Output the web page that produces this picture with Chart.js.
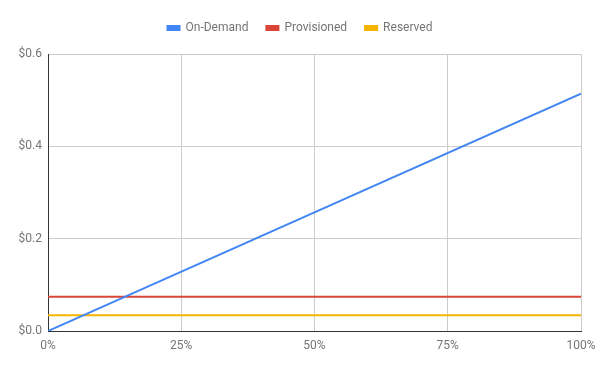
<!DOCTYPE html>
<html>
<head>
<meta charset="utf-8">
<script src="https://cdn.jsdelivr.net/npm/chart.js@4"></script>
<style>
  body { margin: 0; background: #fff; }
  #wrap { width: 600px; height: 371px; }
</style>
</head>
<body>
<div id="wrap"><canvas id="chart"></canvas></div>
<script>
const usage = [0, 100];
const onDemand = [0, 0.514];
const provisioned = [0.074, 0.074];
const reserved = [0.034, 0.034];
const xTicks = [0, 25, 50, 75, 100];

function pts(values) {
  return usage.map((u, i) => ({ x: u, y: values[i] }));
}

// force the legend block height so the plot starts where the reference does
const legendHeight = {
  id: "legendHeight",
  beforeLayout(chart) {
    const lg = chart.legend;
    if (!lg || lg._patched) return;
    const fit = lg.fit;
    lg.fit = function () {
      fit.call(this);
      this.height = 50;
    };
    lg._patched = true;
  }
};

const ctx = document.getElementById("chart").getContext("2d");
new Chart(ctx, {
  type: "line",
  data: {
    datasets: [
      { label: "On-Demand", data: pts(onDemand), borderColor: "#4285f4", backgroundColor: "#4285f4" },
      { label: "Provisioned", data: pts(provisioned), borderColor: "#db4437", backgroundColor: "#db4437" },
      { label: "Reserved", data: pts(reserved), borderColor: "#f4b400", backgroundColor: "#f4b400" }
    ]
  },
  plugins: [legendHeight],
  options: {
    responsive: true,
    maintainAspectRatio: false,
    animation: false,
    elements: {
      line: { borderWidth: 2, tension: 0 },
      point: { radius: 0 }
    },
    layout: { padding: { top: 4, right: 19, left: 19, bottom: 0 } },
    plugins: {
      tooltip: { enabled: false },
      legend: {
        position: "top",
        labels: {
          font: { family: "Roboto", size: 12 },
          color: "#757575",
          boxWidth: 12,
          boxHeight: 4,
          padding: 18
        }
      }
    },
    scales: {
      x: {
        type: "linear",
        min: 0,
        max: 100,
        afterBuildTicks: axis => { axis.ticks = xTicks.map(v => ({ value: v })); },
        afterFit: axis => {
          axis.height = 40;
          axis.paddingLeft = 0;
          axis.paddingRight = 0;
        },
        grid: { color: "#cccccc", drawTicks: false },
        border: { color: "#333333", width: 1 },
        ticks: {
          padding: 8,
          color: "#757575",
          font: { family: "Roboto", size: 12 },
          callback: v => v + "%"
        }
      },
      y: {
        min: 0,
        max: 0.6,
        afterFit: axis => { axis.width = 29; },
        grid: { color: "#cccccc", drawTicks: false },
        border: { color: "#333333", width: 1 },
        ticks: {
          stepSize: 0.2,
          padding: 6,
          color: "#757575",
          font: { family: "Roboto", size: 12 },
          callback: v => "$" + v.toFixed(1)
        }
      }
    }
  }
});
</script>
</body>
</html>
